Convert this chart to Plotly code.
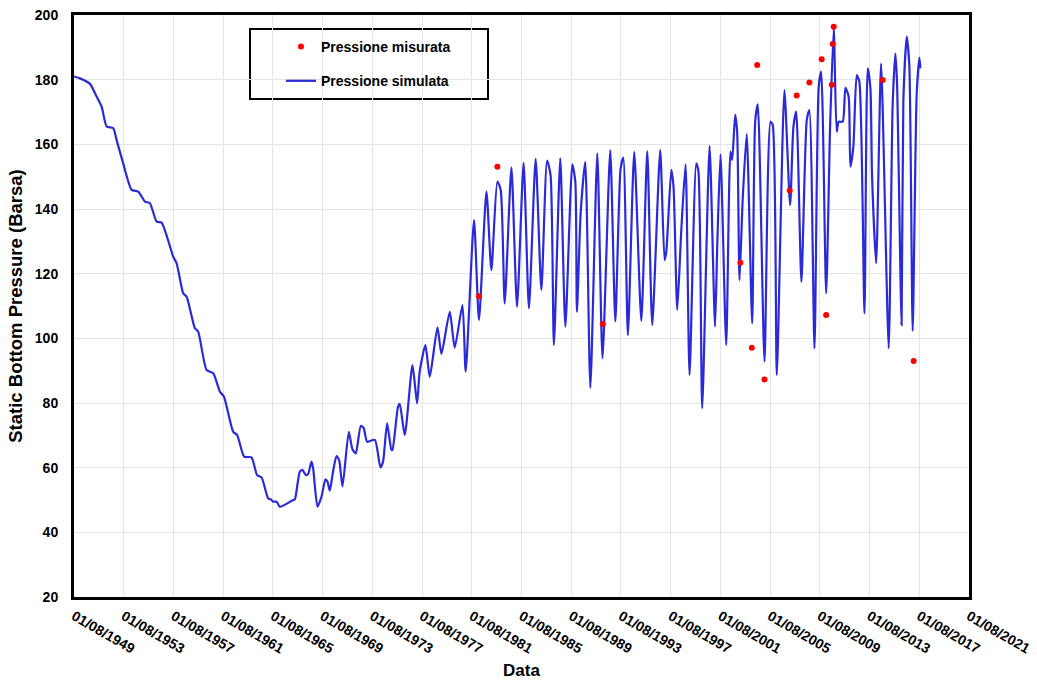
import pandas as pd
import plotly.graph_objects as go

# ---- data (decimal years, pressure in barsa) ----
sim_year = [
    1949.58, 1950.06, 1950.87, 1951.27, 1951.81, 1952.21, 1952.74, 1953.01, 1953.54, 1954.22,
    1954.75, 1955.29, 1955.69, 1956.23, 1956.63, 1957.56, 1957.84, 1958.37, 1958.64, 1959.31,
    1959.57, 1960.25, 1960.78, 1961.32, 1961.64, 1962.39, 1962.71, 1963.27, 1963.86, 1964.31,
    1964.67, 1965.20, 1965.42, 1965.60, 1965.87, 1966.14, 1967.21, 1967.35, 1967.75, 1967.96,
    1968.23, 1968.41, 1968.69, 1968.82, 1969.17, 1969.49, 1969.81, 1969.97, 1970.16, 1970.42,
    1970.70, 1970.91, 1971.18, 1971.69, 1971.98, 1972.25, 1972.65, 1972.89, 1973.16, 1973.78,
    1974.23, 1974.44, 1974.77, 1975.12, 1975.20, 1975.65, 1975.79, 1976.19, 1976.81, 1977.18,
    1977.39, 1977.85, 1978.20, 1978.82, 1979.14, 1979.81, 1980.21, 1980.83, 1981.09, 1981.76,
    1982.16, 1982.76, 1983.16, 1983.64, 1983.91, 1984.23, 1984.77, 1985.22, 1985.75, 1986.18,
    1986.72, 1987.18, 1987.64, 1987.92, 1988.19, 1988.70, 1989.11, 1989.67, 1989.91, 1990.04,
    1990.34, 1990.71, 1991.12, 1991.68, 1992.10, 1992.72, 1993.13, 1993.55, 1993.77, 1994.14,
    1994.65, 1995.22, 1995.70, 1996.10, 1996.74, 1997.09, 1997.23, 1997.63, 1997.81, 1998.11,
    1998.43, 1998.78, 1999.10, 1999.64, 1999.82, 2000.12, 2000.71, 2001.15, 2001.33, 2001.59,
    2002.05, 2002.39, 2002.53, 2002.77, 2002.93, 2003.12, 2003.38, 2003.70, 2004.14, 2004.38,
    2004.59, 2005.13, 2005.61, 2005.79, 2006.12, 2006.73, 2007.19, 2007.46, 2007.68, 2008.10,
    2008.53, 2008.74, 2009.15, 2009.49, 2009.69, 2010.09, 2010.41, 2010.70, 2010.94, 2011.10,
    2011.42, 2011.64, 2011.90, 2012.04, 2012.28, 2012.55, 2012.76, 2013.17, 2013.43, 2013.65,
    2013.78, 2014.11, 2014.51, 2015.12, 2015.44, 2015.66, 2015.79, 2016.16, 2016.30, 2016.57,
    2016.78, 2017.05, 2017.37, 2017.59, 2017.67,
]
sim_pressure = [
    181.0, 180.4, 178.7, 175.8, 171.6, 165.5, 165.0, 161.3, 154.1, 145.9,
    145.4, 142.3, 141.8, 136.1, 135.8, 125.3, 123.2, 113.9, 112.9, 103.1,
    102.1, 90.2, 89.2, 83.5, 82.0, 71.1, 70.1, 63.4, 63.2, 57.7,
    57.0, 50.5, 50.2, 49.5, 49.5, 47.9, 50.0, 50.2, 58.8, 59.3,
    57.7, 58.0, 61.9, 59.8, 47.9, 51.0, 56.4, 55.7, 52.9, 58.8,
    63.6, 62.4, 54.2, 71.1, 65.7, 64.4, 72.9, 72.2, 68.0, 68.6,
    60.1, 61.8, 73.7, 65.5, 65.5, 78.9, 79.7, 70.1, 91.7, 79.9,
    89.7, 97.9, 88.1, 103.4, 95.2, 108.2, 97.1, 110.3, 89.7, 136.6,
    105.7, 145.4, 121.1, 148.5, 145.9, 110.8, 152.8, 109.8, 154.3, 109.3,
    155.5, 115.0, 155.0, 150.5, 97.9, 155.7, 103.6, 153.8, 148.5, 108.2,
    138.7, 154.6, 84.7, 157.2, 93.8, 158.2, 105.2, 152.4, 155.9, 101.0,
    157.7, 105.4, 157.9, 104.1, 158.2, 124.2, 126.8, 152.1, 146.9, 108.8,
    133.0, 153.8, 88.7, 154.1, 151.5, 78.4, 159.5, 103.6, 128.9, 156.9,
    97.9, 157.7, 155.2, 169.1, 163.9, 118.0, 143.3, 163.2, 104.6, 167.0,
    172.4, 92.8, 167.0, 166.0, 88.7, 176.8, 141.2, 165.5, 170.1, 117.5,
    167.5, 170.6, 96.9, 177.8, 182.5, 113.9, 166.0, 195.9, 163.9, 167.0,
    167.0, 177.5, 174.7, 153.1, 159.3, 181.4, 179.4, 107.7, 183.5, 177.3,
    150.5, 123.2, 185.0, 96.9, 172.2, 188.1, 179.4, 104.1, 173.2, 193.3,
    184.5, 102.3, 175.3, 186.8, 183.5,
]

meas_year = [
    1982.16, 1983.64, 1992.13, 2003.19, 2004.11, 2004.54, 2005.13, 2007.16, 2007.72,
    2008.74, 2009.73, 2010.09, 2010.54, 2010.62, 2010.70, 2014.64, 2017.13,
]
meas_pressure = [
    113.0, 153.1, 104.4, 123.4, 97.1, 184.5, 87.3, 145.7, 175.1,
    179.1, 186.3, 107.2, 178.4, 191.0, 196.4, 179.9, 93.0,
]

tick_years = [1949, 1953, 1957, 1961, 1965, 1969, 1973, 1977, 1981, 1985,
              1989, 1993, 1997, 2001, 2005, 2009, 2013, 2017, 2021]
tick_labels = ["01/08/%d" % y for y in tick_years]
y_ticks = [20, 40, 60, 80, 100, 120, 140, 160, 180, 200]


def to_date(y):
    yr = int(y)
    start = pd.Timestamp(yr, 1, 1)
    end = pd.Timestamp(yr + 1, 1, 1)
    return start + (end - start) * (y - yr)


sim_dates = [to_date(y) for y in sim_year]
meas_dates = [to_date(y) for y in meas_year]
tick_dates = [pd.Timestamp(y, 8, 1) for y in tick_years]

FONT = "Liberation Sans, Arial, sans-serif"

fig = go.Figure()
fig.add_trace(go.Scatter(
    x=sim_dates, y=sim_pressure, mode="lines", name="Pressione simulata",
    line=dict(color="#2a2ad8", width=2.2, shape="spline", smoothing=0.6),
    legendgroup="sim", legendrank=2,
))
fig.add_trace(go.Scatter(
    x=meas_dates, y=meas_pressure, mode="markers", name="Pressione misurata",
    marker=dict(color="#ff0000", size=6),
    legendgroup="meas", legendrank=1,
))

L, R, T, B = 74, 68, 15, 83
W, H = 1037, 680
pw, ph = W - L - R, H - T - B

def px_x(px):
    return (px - L) / pw

def px_y(py):
    return (H - B - py) / ph

fig.update_layout(
    width=W, height=H,
    margin=dict(l=L, r=R, t=T, b=B, pad=0, autoexpand=False),
    paper_bgcolor="white", plot_bgcolor="white",
    font=dict(family=FONT, size=14, color="black"),
    showlegend=True,
    legend=dict(
        x=px_x(281), y=px_y(31), xanchor="left", yanchor="top",
        bgcolor="rgba(0,0,0,0)", borderwidth=0,
        font=dict(family=FONT, size=14, color="black", weight="bold"),
        traceorder="grouped", tracegroupgap=13, itemwidth=30,
    ),
    shapes=[dict(
        type="rect", xref="paper", yref="paper",
        x0=px_x(250), x1=px_x(488), y0=px_y(99), y1=px_y(29),
        line=dict(color="black", width=2), fillcolor="white", layer="below",
    )],
    xaxis=dict(
        type="date", automargin=False,
        range=[tick_dates[0], tick_dates[-1]],
        tickmode="array", tickvals=tick_dates, ticktext=tick_labels,
        tickangle=30,
        tickfont=dict(family=FONT, size=14, color="black", weight="bold"),
        showgrid=True, gridcolor="#e4e4e4", gridwidth=1,
        showline=True, linecolor="black", linewidth=3, mirror=True,
        ticks="", zeroline=False, ticklabelstandoff=3,
        title=dict(text="Data", font=dict(family=FONT, size=17, color="black", weight="bold"),
                   standoff=9),
    ),
    yaxis=dict(
        range=[20, 200], automargin=False,
        tickmode="array", tickvals=y_ticks,
        tickfont=dict(family=FONT, size=14, color="black", weight="bold"),
        showgrid=True, gridcolor="#e4e4e4", gridwidth=1,
        showline=True, linecolor="black", linewidth=3, mirror=True,
        ticks="", zeroline=False, ticklabelstandoff=10,
        title=dict(text="Static Bottom Pressure (Barsa)",
                   font=dict(family=FONT, size=18.5, color="black", weight="bold"),
                   standoff=8),
    ),
)

fig.write_html("out.html")
